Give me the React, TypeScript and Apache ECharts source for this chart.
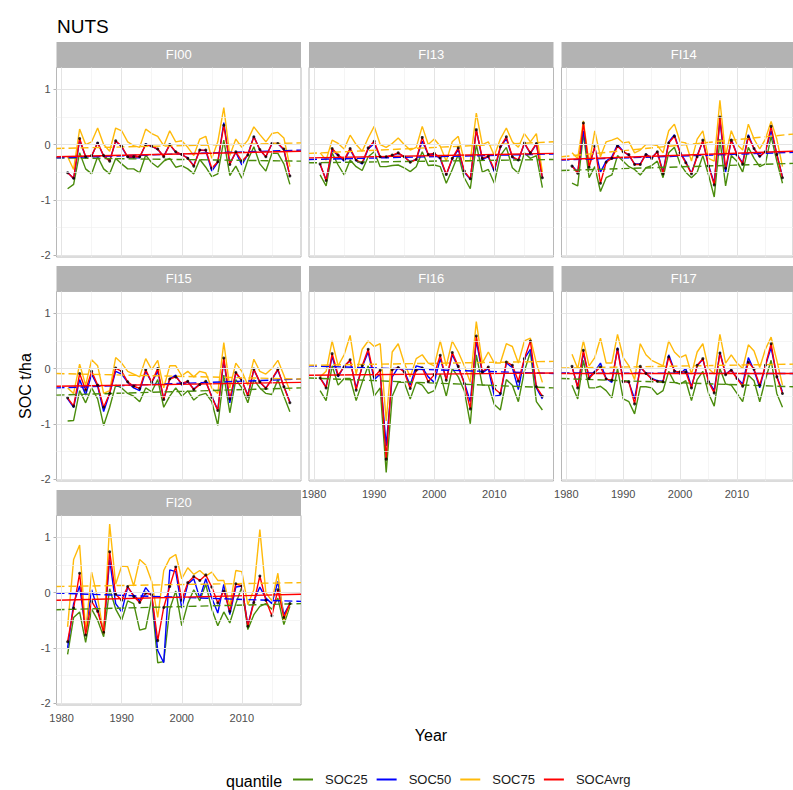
import React, { useEffect, useRef } from "react";
import * as echarts from "echarts";

// ---------- data ----------
const YEARS = [1981, 1982, 1983, 1984, 1985, 1986, 1987, 1988, 1989, 1990, 1991, 1992, 1993, 1994, 1995, 1996, 1997, 1998, 1999, 2000, 2001, 2002, 2003, 2004, 2005, 2006, 2007, 2008, 2009, 2010, 2011, 2012, 2013, 2014, 2015, 2016, 2017, 2018];
const PANELS = ["FI00", "FI13", "FI14", "FI15", "FI16", "FI17", "FI20"];
const QUANTILES = ["SOC25", "SOC50", "SOC75", "SOCAvrg"];

const X_LIMITS = [1979.15, 2019.85];
const Y_LIMITS = [-2.036, 1.396];
const X_BREAKS = [1980, 1990, 2000, 2010];
const X_MINOR = [1985, 1995, 2005, 2015];
const Y_BREAKS = [-2, -1, 0, 1];
const Y_MINOR = [-1.5, -0.5, 0.5];

// FI00
const FI00_SOC25 = [-0.80, -0.72, -0.15, -0.44, -0.53, -0.22, -0.44, -0.53, -0.25, -0.35, -0.44, -0.44, -0.51, -0.19, -0.33, -0.41, -0.30, -0.25, -0.41, -0.38, -0.44, -0.53, -0.27, -0.41, -0.58, -0.53, 0.08, -0.56, -0.39, -0.61, -0.28, -0.04, -0.35, -0.48, -0.16, -0.16, -0.35, -0.72];
const FI00_SOC50 = [-0.50, -0.62, 0.08, -0.22, -0.21, 0.04, -0.21, -0.29, 0.06, -0.04, -0.23, -0.24, -0.24, 0.01, -0.03, -0.09, -0.21, 0.00, -0.14, -0.18, -0.24, -0.38, -0.10, -0.11, -0.48, -0.32, 0.40, -0.34, -0.14, -0.37, -0.18, 0.15, -0.10, -0.22, 0.01, 0.02, -0.10, -0.57];
const FI00_SOC75 = [-0.22, -0.45, 0.28, 0.00, 0.05, 0.30, 0.00, -0.12, 0.30, 0.25, 0.05, -0.02, -0.05, 0.28, 0.20, 0.15, -0.02, 0.25, 0.05, 0.07, -0.05, -0.20, 0.10, 0.15, -0.25, 0.05, 0.67, -0.20, 0.10, -0.05, 0.08, 0.32, 0.18, 0.05, 0.20, 0.22, 0.12, -0.40];
const FI00_SOCAvrg = [-0.51, -0.61, 0.11, -0.22, -0.20, 0.03, -0.20, -0.30, 0.07, -0.03, -0.22, -0.22, -0.22, 0.00, -0.03, -0.08, -0.22, 0.00, -0.13, -0.18, -0.25, -0.39, -0.10, -0.10, -0.43, -0.31, 0.35, -0.36, -0.13, -0.30, -0.19, 0.14, -0.09, -0.22, 0.02, 0.02, -0.08, -0.57];
const FI00_TRENDS = { SOC25: [-0.24, -0.30], SOC50: [-0.24, -0.10], SOC75: [-0.07, 0.03], SOCAvrg: [-0.22, -0.12] };

// FI13
const FI13_SOC25 = [-0.55, -0.75, -0.15, -0.37, -0.55, -0.28, -0.40, -0.47, -0.22, -0.13, -0.40, -0.40, -0.38, -0.37, -0.42, -0.49, -0.40, -0.13, -0.38, -0.37, -0.40, -0.70, -0.45, -0.18, -0.60, -0.80, 0.00, -0.50, -0.45, -0.70, -0.20, -0.05, -0.42, -0.52, -0.15, -0.25, -0.20, -0.78];
const FI13_SOC50 = [-0.36, -0.64, -0.10, -0.20, -0.30, -0.09, -0.29, -0.35, -0.08, 0.02, -0.23, -0.23, -0.20, -0.16, -0.22, -0.31, -0.27, 0.06, -0.18, -0.17, -0.26, -0.55, -0.26, -0.09, -0.50, -0.63, 0.27, -0.27, -0.22, -0.49, -0.05, 0.11, -0.23, -0.29, 0.02, -0.16, 0.01, -0.60];
const FI13_SOC75 = [-0.15, -0.28, 0.08, 0.02, -0.08, 0.17, 0.00, -0.12, 0.12, 0.33, 0.00, -0.05, 0.02, 0.12, 0.00, -0.10, -0.05, 0.33, 0.00, 0.10, -0.03, -0.30, 0.05, 0.15, -0.30, -0.30, 0.57, 0.00, 0.05, -0.20, 0.10, 0.30, 0.05, -0.05, 0.20, 0.05, 0.20, -0.50];
const FI13_SOCAvrg = [-0.35, -0.65, -0.07, -0.19, -0.27, -0.07, -0.28, -0.33, -0.06, 0.06, -0.22, -0.22, -0.19, -0.15, -0.22, -0.32, -0.27, 0.13, -0.18, -0.16, -0.24, -0.54, -0.25, -0.06, -0.48, -0.62, 0.27, -0.25, -0.21, -0.45, -0.04, 0.14, -0.22, -0.28, 0.03, -0.15, 0.02, -0.60];
const FI13_TRENDS = { SOC25: [-0.33, -0.27], SOC50: [-0.27, -0.17], SOC75: [-0.16, 0.05], SOCAvrg: [-0.24, -0.16] };

// FI14
const FI14_SOC25 = [-0.70, -0.75, 0.20, -0.60, -0.40, -0.85, -0.60, -0.55, -0.20, -0.30, -0.40, -0.45, -0.55, -0.42, -0.38, -0.30, -0.60, -0.15, -0.05, -0.35, -0.50, -0.60, -0.50, -0.20, -0.55, -0.95, 0.10, -0.75, -0.20, -0.30, -0.50, -0.05, -0.25, -0.40, -0.35, 0.15, -0.30, -0.70];
const FI14_SOC50 = [-0.38, -0.50, 0.25, -0.38, -0.05, -0.50, -0.30, -0.22, 0.00, -0.12, -0.20, -0.35, -0.35, -0.17, -0.24, -0.13, -0.50, 0.05, 0.18, -0.14, -0.31, -0.52, -0.20, 0.06, -0.37, -0.70, 0.45, -0.50, 0.10, -0.18, -0.33, 0.18, -0.08, -0.22, -0.12, 0.25, -0.17, -0.58];
const FI14_SOC75 = [-0.15, -0.25, 0.43, -0.35, 0.25, -0.22, 0.05, 0.08, 0.12, 0.03, 0.05, -0.15, -0.10, 0.00, 0.00, -0.02, -0.15, 0.25, 0.37, 0.05, 0.03, -0.30, 0.10, 0.25, -0.25, -0.30, 0.80, -0.20, 0.25, 0.00, -0.10, 0.37, 0.10, -0.08, 0.10, 0.42, 0.10, -0.40];
const FI14_SOCAvrg = [-0.39, -0.52, 0.39, -0.41, -0.03, -0.70, -0.32, -0.25, -0.03, -0.13, -0.18, -0.36, -0.36, -0.18, -0.25, -0.13, -0.53, 0.03, 0.15, -0.15, -0.33, -0.53, -0.22, 0.08, -0.39, -0.73, 0.50, -0.43, 0.08, -0.19, -0.35, 0.14, -0.07, -0.21, -0.13, 0.33, -0.18, -0.60];
const FI14_TRENDS = { SOC25: [-0.47, -0.34], SOC50: [-0.28, -0.14], SOC75: [-0.22, 0.19], SOCAvrg: [-0.27, -0.12] };

// FI15
const FI15_SOC25 = [-0.95, -0.94, -0.40, -0.62, -0.35, -0.55, -1.03, -0.70, -0.30, -0.35, -0.45, -0.50, -0.60, -0.35, -0.42, -0.20, -0.70, -0.50, -0.35, -0.50, -0.40, -0.57, -0.48, -0.45, -0.60, -1.03, -0.12, -0.80, -0.20, -0.35, -0.62, -0.20, -0.35, -0.45, -0.47, -0.20, -0.50, -0.78];
const FI15_SOC50 = [-0.55, -0.70, -0.20, -0.48, -0.10, -0.32, -0.78, -0.45, -0.05, -0.10, -0.25, -0.35, -0.40, -0.05, -0.25, -0.05, -0.55, -0.18, -0.12, -0.30, -0.24, -0.37, -0.28, -0.24, -0.50, -0.75, 0.15, -0.62, -0.08, -0.22, -0.48, -0.02, -0.25, -0.35, -0.20, -0.03, -0.32, -0.60];
const FI15_SOC75 = [-0.35, -0.45, 0.08, -0.30, 0.16, 0.05, -0.45, -0.40, 0.20, 0.10, -0.05, -0.10, -0.15, 0.18, -0.02, 0.15, -0.35, 0.05, 0.05, -0.13, -0.05, -0.15, -0.05, -0.08, -0.35, -0.45, 0.47, -0.35, 0.10, -0.05, -0.30, 0.17, -0.05, -0.10, 0.00, 0.15, -0.12, -0.40];
const FI15_SOCAvrg = [-0.53, -0.68, -0.09, -0.39, -0.05, -0.30, -0.70, -0.45, 0.01, -0.05, -0.24, -0.32, -0.36, -0.02, -0.25, 0.00, -0.56, -0.19, -0.15, -0.27, -0.23, -0.38, -0.29, -0.23, -0.52, -0.76, 0.19, -0.55, -0.07, -0.21, -0.50, -0.01, -0.24, -0.36, -0.19, -0.01, -0.33, -0.62];
const FI15_TRENDS = { SOC25: [-0.48, -0.35], SOC50: [-0.35, -0.19], SOC75: [-0.09, -0.19], SOCAvrg: [-0.32, -0.25] };

// FI16
const FI16_SOC25 = [-0.40, -0.58, 0.05, -0.30, -0.18, -0.18, -0.58, -0.25, 0.05, -0.50, -0.35, -1.88, -0.50, -0.25, -0.25, -0.55, -0.25, -0.30, -0.45, -0.40, -0.10, -0.50, 0.00, -0.15, -0.40, -1.00, 0.25, -0.30, -0.30, -0.65, -0.75, -0.20, -0.30, -0.60, -0.05, 0.30, -0.60, -0.75];
const FI16_SOC50 = [-0.17, -0.33, 0.22, -0.15, 0.05, 0.14, -0.35, 0.03, 0.30, -0.20, -0.10, -1.40, -0.15, 0.02, -0.04, -0.30, 0.05, 0.02, -0.15, -0.25, 0.18, -0.20, 0.25, 0.02, -0.25, -0.60, 0.50, -0.08, 0.00, -0.50, -0.48, 0.10, 0.02, -0.38, 0.18, 0.35, -0.35, -0.55];
const FI16_SOC75 = [-0.15, -0.05, 0.50, 0.05, 0.25, 0.60, -0.10, 0.35, 0.50, 0.40, 0.45, -0.95, 0.30, 0.45, 0.10, -0.15, 0.18, 0.25, 0.10, 0.05, 0.50, 0.05, 0.50, 0.30, 0.05, -0.25, 0.85, 0.10, 0.30, 0.10, 0.10, 0.45, 0.40, 0.10, 0.50, 0.55, 0.10, -0.25];
const FI16_SOCAvrg = [-0.17, -0.35, 0.27, -0.12, 0.03, 0.16, -0.39, 0.05, 0.35, -0.15, -0.03, -1.64, -0.02, 0.02, -0.06, -0.36, -0.03, 0.01, -0.24, -0.11, 0.24, -0.21, 0.29, 0.04, -0.27, -0.73, 0.59, -0.06, 0.03, -0.36, -0.45, 0.12, 0.06, -0.23, 0.18, 0.50, -0.33, -0.50];
const FI16_TRENDS = { SOC25: [-0.17, -0.35], SOC50: [0.05, -0.09], SOC75: [0.06, 0.13], SOCAvrg: [-0.12, -0.08] };

// FI17
const FI17_SOC25 = [-0.30, -0.55, 0.15, -0.35, -0.35, -0.32, -0.40, -0.53, 0.00, -0.55, -0.60, -0.82, -0.33, -0.33, -0.35, -0.47, -0.40, -0.05, -0.25, -0.28, -0.22, -0.58, -0.20, -0.05, -0.45, -0.68, 0.00, -0.28, -0.30, -0.45, -0.60, -0.12, -0.22, -0.60, -0.20, 0.15, -0.45, -0.70];
const FI17_SOC50 = [0.03, -0.33, 0.28, -0.16, -0.05, 0.10, -0.18, -0.25, 0.38, -0.22, -0.25, -0.55, 0.02, -0.08, -0.18, -0.22, -0.23, 0.25, -0.03, -0.10, 0.00, -0.33, 0.05, 0.17, -0.22, -0.40, 0.30, -0.10, -0.02, -0.17, -0.28, 0.20, -0.03, -0.35, 0.05, 0.38, -0.14, -0.42];
const FI17_SOC75 = [0.26, 0.00, 0.50, 0.05, 0.20, 0.55, 0.10, 0.10, 0.62, 0.20, 0.05, -0.20, 0.45, 0.25, 0.15, 0.10, 0.05, 0.50, 0.30, 0.20, 0.25, -0.10, 0.30, 0.45, 0.00, -0.10, 0.62, 0.10, 0.25, 0.10, 0.00, 0.43, 0.32, 0.02, 0.35, 0.57, 0.15, -0.30];
const FI17_SOCAvrg = [0.04, -0.35, 0.33, -0.18, -0.07, 0.03, -0.19, -0.21, 0.35, -0.24, -0.24, -0.64, 0.04, -0.09, -0.19, -0.23, -0.24, 0.21, -0.05, -0.06, -0.06, -0.35, 0.06, 0.18, -0.24, -0.44, 0.28, -0.11, -0.03, -0.18, -0.32, 0.12, -0.01, -0.30, 0.06, 0.45, -0.15, -0.45];
const FI17_TRENDS = { SOC25: [-0.18, -0.33], SOC50: [-0.08, -0.09], SOC75: [0.01, 0.08], SOCAvrg: [-0.09, -0.09] };

// FI20
const FI20_SOC25 = [-1.12, -0.45, -0.35, -0.90, -0.30, -0.50, -0.80, 0.07, -0.30, -0.50, -0.15, -0.20, -0.68, -0.65, -0.10, -1.27, -1.25, -0.30, 0.03, -0.60, -0.20, 0.05, -0.15, 0.15, -0.30, -0.60, -0.35, -0.55, -0.20, 0.10, -0.67, -0.40, -0.25, -0.20, -0.30, -0.10, -0.58, -0.25];
const FI20_SOC50 = [-1.00, -0.20, 0.12, -0.70, 0.05, -0.30, -0.70, 0.60, -0.20, -0.35, 0.10, -0.05, -0.15, 0.09, -0.05, -1.05, -1.27, 0.41, 0.38, -0.28, 0.15, 0.25, -0.10, 0.25, -0.10, -0.37, 0.15, -0.40, 0.10, 0.12, -0.60, -0.15, 0.10, -0.10, -0.20, 0.20, -0.40, -0.20];
const FI20_SOC75 = [-0.62, 0.60, 0.86, -0.70, 0.37, -0.10, -0.75, 1.24, 0.15, 0.48, 0.47, 0.12, 0.60, 0.50, 0.20, -0.45, 0.40, 0.62, 0.69, 0.25, 0.45, 0.33, 0.40, 0.30, 0.37, 0.22, 0.22, -0.25, 0.40, 0.38, -0.22, 0.05, 1.14, 0.00, -0.15, 0.35, -0.50, -0.20];
const FI20_SOCAvrg = [-0.89, -0.28, 0.35, -0.77, -0.16, -0.34, -0.72, 0.74, -0.03, -0.14, 0.11, -0.07, -0.18, -0.01, -0.04, -0.87, -0.27, 0.11, 0.47, -0.14, 0.18, 0.29, 0.22, 0.32, 0.10, -0.19, 0.03, -0.34, 0.16, 0.12, -0.61, -0.18, 0.30, -0.14, -0.42, 0.05, -0.45, -0.20];
const FI20_TRENDS = { SOC25: [-0.31, -0.20], SOC50: [-0.01, -0.16], SOC75: [0.11, 0.18], SOCAvrg: [-0.14, -0.03] };

const PANEL_SERIES: Record<string, Record<string, number[]>> = {
  FI00: { SOC25: FI00_SOC25, SOC50: FI00_SOC50, SOC75: FI00_SOC75, SOCAvrg: FI00_SOCAvrg },
  FI13: { SOC25: FI13_SOC25, SOC50: FI13_SOC50, SOC75: FI13_SOC75, SOCAvrg: FI13_SOCAvrg },
  FI14: { SOC25: FI14_SOC25, SOC50: FI14_SOC50, SOC75: FI14_SOC75, SOCAvrg: FI14_SOCAvrg },
  FI15: { SOC25: FI15_SOC25, SOC50: FI15_SOC50, SOC75: FI15_SOC75, SOCAvrg: FI15_SOCAvrg },
  FI16: { SOC25: FI16_SOC25, SOC50: FI16_SOC50, SOC75: FI16_SOC75, SOCAvrg: FI16_SOCAvrg },
  FI17: { SOC25: FI17_SOC25, SOC50: FI17_SOC50, SOC75: FI17_SOC75, SOCAvrg: FI17_SOCAvrg },
  FI20: { SOC25: FI20_SOC25, SOC50: FI20_SOC50, SOC75: FI20_SOC75, SOCAvrg: FI20_SOCAvrg },
};
const PANEL_TRENDS: Record<string, Record<string, number[]>> = {
  FI00: FI00_TRENDS, FI13: FI13_TRENDS, FI14: FI14_TRENDS, FI15: FI15_TRENDS,
  FI16: FI16_TRENDS, FI17: FI17_TRENDS, FI20: FI20_TRENDS,
};

// ---------- styling / layout ----------
const COLORS: Record<string, string> = {
  SOC25: "#4A8C0C",
  SOC50: "#0000FF",
  SOC75: "#FFBA0A",
  SOCAvrg: "#FF0000",
};
const FONT = "'Liberation Sans', Arial, Helvetica, sans-serif";
const COL_LEFT = [56.5, 309, 561.5];
const ROW_TOP = [67.5, 291.5, 515.5];
const PANEL_W = 244.5;
const PANEL_H = 189.5;
const STRIP_H = 25.5;

function buildOption() {
  const grids: any[] = [];
  const xAxes: any[] = [];
  const yAxes: any[] = [];
  const series: any[] = [];
  const graphics: any[] = [];
  const lastRowOfCol = [6, 4, 5];

  PANELS.forEach((name, i) => {
    const row = Math.floor(i / 3);
    const col = i % 3;
    const left = COL_LEFT[col];
    const top = ROW_TOP[row];
    const showX = lastRowOfCol[col] === i;
    const showY = col === 0;

    grids.push({
      left, top, width: PANEL_W, height: PANEL_H,
      show: true, borderColor: "#B8B8B8", borderWidth: 1,
      backgroundColor: "rgba(0,0,0,0)", containLabel: false,
    });
    xAxes.push({
      type: "value", gridIndex: i, min: X_LIMITS[0], max: X_LIMITS[1],
      splitLine: { show: false }, axisLine: { show: false },
      axisTick: { show: showX, customValues: X_BREAKS, length: 3, lineStyle: { color: "#B3B3B3" } },
      axisLabel: {
        show: showX, customValues: X_BREAKS, color: "#4D4D4D", fontSize: 11,
        fontFamily: FONT, margin: 7, formatter: (v: number) => String(v),
      },
    });
    yAxes.push({
      type: "value", gridIndex: i, min: Y_LIMITS[0], max: Y_LIMITS[1],
      splitLine: { show: false }, axisLine: { show: false },
      axisTick: { show: showY, customValues: Y_BREAKS, length: 3, lineStyle: { color: "#B3B3B3" } },
      axisLabel: {
        show: showY, customValues: Y_BREAKS, color: "#4D4D4D", fontSize: 11,
        fontFamily: FONT, margin: 6, formatter: (v: number) => String(v),
      },
    });

    const vals = PANEL_SERIES[name];
    const trends = PANEL_TRENDS[name];

    // grid lines carried by an invisible series
    const major = { color: "#E4E4E4", width: 1, type: "solid" };
    const minor = { color: "#F1F1F1", width: 0.7, type: "solid" };
    series.push({
      name: "grid-" + name, type: "line", xAxisIndex: i, yAxisIndex: i,
      data: YEARS.map((y, k) => [y, vals.SOC25[k]]),
      showSymbol: false, silent: true, z: 1,
      lineStyle: { opacity: 0, width: 0 },
      markLine: {
        silent: true, symbol: ["none", "none"], animation: false,
        label: { show: false }, emphasis: { disabled: true },
        data: [
          ...X_MINOR.map((v) => ({ xAxis: v, lineStyle: minor })),
          ...Y_MINOR.map((v) => ({ yAxis: v, lineStyle: minor })),
          ...X_BREAKS.map((v) => ({ xAxis: v, lineStyle: major })),
          ...Y_BREAKS.map((v) => ({ yAxis: v, lineStyle: major })),
        ],
      },
    });

    QUANTILES.forEach((q) => {
      series.push({
        name: q, type: "line", xAxisIndex: i, yAxisIndex: i,
        data: YEARS.map((y, k) => [y, vals[q][k]]),
        showSymbol: false, silent: true, z: 2,
        color: COLORS[q],
        lineStyle: { color: COLORS[q], width: 1.4 },
      });
    });
    QUANTILES.forEach((q) => {
      series.push({
        name: q + " trend", type: "line", xAxisIndex: i, yAxisIndex: i,
        data: [[X_LIMITS[0], trends[q][0]], [X_LIMITS[1], trends[q][1]]],
        showSymbol: false, silent: true, z: 3,
        lineStyle: { color: COLORS[q], width: 1.4, type: q === "SOCAvrg" ? "solid" : [8, 4] },
      });
    });
    series.push({
      name: "SOCAvrg points", type: "scatter", xAxisIndex: i, yAxisIndex: i,
      data: YEARS.map((y, k) => [y, vals.SOCAvrg[k]]),
      symbolSize: 3, itemStyle: { color: "#000000" }, silent: true, z: 4,
    });

    graphics.push({
      type: "rect", shape: { x: left, y: top - STRIP_H, width: PANEL_W, height: STRIP_H },
      style: { fill: "#B3B3B3" }, silent: true,
    });
    graphics.push({
      type: "text", x: left + PANEL_W / 2, y: top - STRIP_H / 2,
      style: { text: name, fill: "#FFFFFF", fontSize: 13, fontFamily: FONT, textAlign: "center", textVerticalAlign: "middle" },
      silent: true,
    });
  });

  graphics.push({
    type: "text", x: 25, y: 386, rotation: Math.PI / 2,
    style: { text: "SOC t/ha", fill: "#000000", fontSize: 16, fontFamily: FONT, textAlign: "center", textVerticalAlign: "middle" },
  });
  graphics.push({
    type: "text", x: 431, y: 735,
    style: { text: "Year", fill: "#000000", fontSize: 16, fontFamily: FONT, textAlign: "center", textVerticalAlign: "middle" },
  });
  graphics.push({
    type: "text", x: 226, y: 781,
    style: { text: "quantile", fill: "#000000", fontSize: 16, fontFamily: FONT, textAlign: "left", textVerticalAlign: "middle" },
  });

  return {
    animation: false,
    backgroundColor: "#FFFFFF",
    textStyle: { fontFamily: FONT },
    title: {
      text: "NUTS", left: 52, top: 12,
      textStyle: { fontSize: 19, fontWeight: "normal", color: "#000000", fontFamily: FONT },
    },
    legend: {
      data: QUANTILES, left: 288, top: 772, orient: "horizontal",
      icon: "rect", itemWidth: 20, itemHeight: 2, itemGap: 9,
      selectedMode: false, padding: [1, 5, 1, 5],
      textStyle: { fontSize: 13, color: "#1A1A1A", fontFamily: FONT, padding: [0, 0, 0, 7] },
    },
    grid: grids,
    xAxis: xAxes,
    yAxis: yAxes,
    series,
    graphic: graphics,
  };
}

export default function App() {
  const ref = useRef<HTMLDivElement>(null);
  useEffect(() => {
    if (!ref.current) return;
    const chart = echarts.init(ref.current, null, { renderer: "svg" });
    chart.setOption(buildOption() as any);
    return () => chart.dispose();
  }, []);
  return (
    <div
      ref={ref}
      style={{ position: "absolute", left: 0, top: 0, width: 793, height: 790, overflow: "hidden" }}
    />
  );
}
